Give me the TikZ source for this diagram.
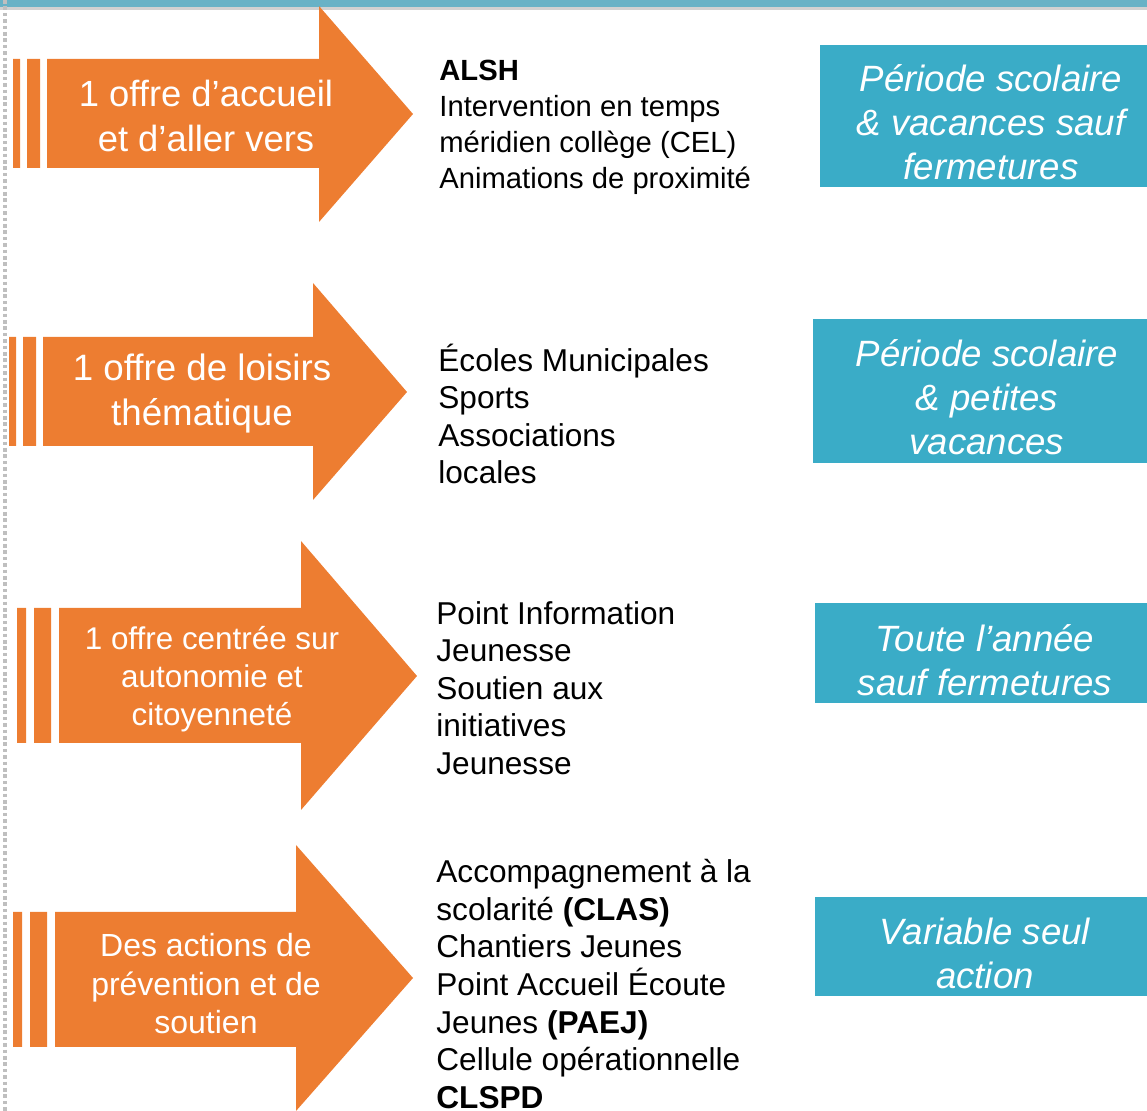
\documentclass[tikz,border=0pt]{standalone}
\usepackage{fontspec}
\setmainfont{Liberation Sans}
\usepackage{xcolor}
\usepackage{tikz}

\definecolor{offreorange}{HTML}{ED7D31}
\definecolor{periodeblue}{HTML}{3AACC7}
\definecolor{bandteal}{HTML}{68B2C6}

\tikzset{
    offre/.style={fill=offreorange},
    offretext/.style={text=white, align=center, inner sep=0pt},
    actions/.style={anchor=west, align=left, inner sep=0pt, font=\fontsize{15.8}{18.8}\selectfont},
    periode/.style={fill=periodeblue},
    periodetext/.style={text=white, align=center, inner sep=0pt, font=\fontsize{18.3}{22}\selectfont\itshape}
}

\begin{document}
\begin{tikzpicture}[x=0.5pt, y=-0.5pt]
        \useasboundingbox (0,0) rectangle (1147,1111);
        % bandeau du haut et filet gauche
        \fill[bandteal] (0,0) rectangle (1147,7);
        \fill[black!18] (0,7) rectangle (1147,10);
        \draw[black!25, line width=1.6pt, dash pattern=on 1.8pt off 1.4pt] (5,0) -- (5,1111);

        % fleches oranges
        \fill[offre] (13,59) rectangle (20,168) (27,59) rectangle (40,168)
            (47,59) -- (319,59) -- (319,6) -- (413,114) -- (319,222) -- (319,168) -- (47,168) -- cycle;
        \fill[offre] (9,337) rectangle (16,446) (23,337) rectangle (36,446)
            (43,337) -- (313,337) -- (313,283) -- (407,392) -- (313,500) -- (313,446) -- (43,446) -- cycle;
        \fill[offre] (17,608) rectangle (26,743) (34,608) rectangle (51,743)
            (59,608) -- (301,608) -- (301,541) -- (417,676) -- (301,810) -- (301,743) -- (59,743) -- cycle;
        \fill[offre] (13,912) rectangle (22,1047) (30,912) rectangle (47,1047)
            (55,912) -- (296,912) -- (296,845) -- (413,978) -- (296,1111) -- (296,1047) -- (55,1047) -- cycle;

        \node (accueil) [offretext, font=\fontsize{18.2}{22.5}\selectfont] at (206,116) {1 offre d’accueil\\et d’aller vers};
        \node (loisirs) [offretext, font=\fontsize{18.35}{22.5}\selectfont] at (202,394) {1 offre de loisirs\\thématique};
        \node (autonomie) [offretext, font=\fontsize{15.7}{19}\selectfont] at (212,679) {1 offre centrée sur\\autonomie et\\citoyenneté};
        \node (prevention) [offretext, font=\fontsize{16}{19.25}\selectfont] at (206,984) {Des actions de\\prévention et de\\soutien};

        % dispositifs
        \node (alsh) [actions, font=\fontsize{14.6}{18}\selectfont] at (439,127) {\textbf{ALSH}\\Intervention en temps\\méridien collège (CEL)\\Animations de proximité};
        \node (ecoles) [actions] at (438,414) {Écoles Municipales\\Sports\\Associations\\locales};
        \node (pij) [actions] at (436,688) {Point Information\\Jeunesse\\Soutien aux\\initiatives\\Jeunesse};
        \node (clas) [actions] at (436,984) {Accompagnement à la\\scolarité \textbf{(CLAS)}\\Chantiers Jeunes\\Point Accueil Écoute\\Jeunes \textbf{(PAEJ)}\\Cellule opérationnelle\\\textbf{CLSPD}};

        % periodes
        \fill[periode] (820,45) rectangle (1147,187);
        \fill[periode] (813,319) rectangle (1147,463);
        \fill[periode] (815,603) rectangle (1147,703);
        \fill[periode] (815,897) rectangle (1147,996);
        \node (vacances) [periodetext] at (991,122) {Période scolaire\\\& vacances sauf\\fermetures};
        \node (petites) [periodetext] at (987,397) {Période scolaire\\\& petites\\vacances};
        \node (annee) [periodetext] at (985,660) {Toute l’année\\sauf fermetures};
        \node (variable) [periodetext] at (985,953) {Variable seul\\action};
    \end{tikzpicture}
\end{document}
